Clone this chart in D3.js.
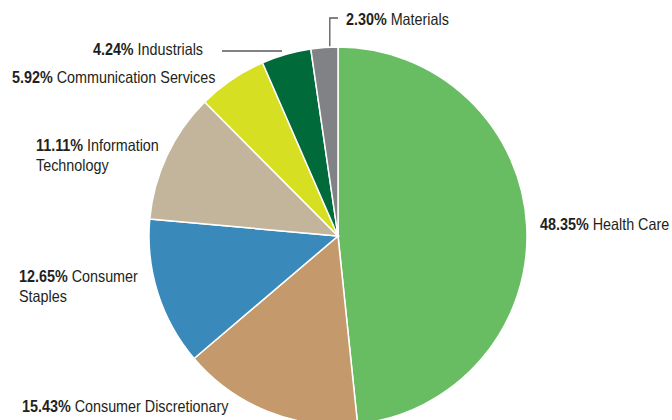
<!DOCTYPE html>
<html><head><meta charset="utf-8">
<script src="https://cdn.jsdelivr.net/npm/d3@7"></script>
<style>
body{margin:0;background:#fff;}
svg{display:block;}
text{font-family:"Liberation Sans",Arial,sans-serif;font-size:16.5px;fill:#231f20;}
</style></head>
<body>
<svg id="chart" width="672" height="420"></svg>
<script>
const categories = ["Health Care","Consumer Discretionary","Consumer Staples","Information Technology","Communication Services","Industrials","Materials"];
const values = [48.35,15.43,12.65,11.11,5.92,4.24,2.30];
const colors = ["#68bd63","#c4996b","#3a89bb","#c2b59b","#d7df23","#006a3b","#808285"];
// label layout: anchor position and name lines
const labelLayout = {
  "Health Care": {x:540, y:230, lines:["Health Care"]},
  "Consumer Discretionary": {x:22, y:412, lines:["Consumer Discretionary"]},
  "Consumer Staples": {x:19, y:282, lines:["Consumer","Staples"]},
  "Information Technology": {x:36, y:151, lines:["Information","Technology"]},
  "Communication Services": {x:12, y:83, lines:["Communication Services"]},
  "Industrials": {x:203, y:55, lines:["Industrials"], anchor:"end"},
  "Materials": {x:346, y:25, lines:["Materials"]}
};
const sx = 0.87;

const svg = d3.select("#chart");
const cx = 338, cy = 236, r = 189;
const data = categories.map((c,i)=>({cat:c, value:values[i], color:colors[i]}));
const pie = d3.pie().sort(null).value(d=>d.value);
const arc = d3.arc().innerRadius(0).outerRadius(r);
const g = svg.append("g").attr("transform",`translate(${cx},${cy})`);
const arcs = pie(data);
g.selectAll("path").data(arcs).join("path")
  .attr("d",arc).attr("fill",d=>d.data.color)
  .attr("stroke","#fff").attr("stroke-width",1.5);

// leader lines
const mat = arcs[6];
const matA = mat.endAngle - 0.3*(mat.endAngle-mat.startAngle);
const mx = cx + r*Math.sin(matA), my = cy - r*Math.cos(matA);
svg.append("path").attr("d",`M${mx},${my-1}V18H338`).attr("fill","none").attr("stroke","#58595b").attr("stroke-width",1.3);
svg.append("line").attr("x1",222).attr("x2",282).attr("y1",51).attr("y2",51).attr("stroke","#58595b").attr("stroke-width",1.3);

data.forEach(d=>{
  const L = labelLayout[d.cat];
  L.lines.forEach((line,k)=>{
    const t = svg.append("text")
      .attr("transform",`translate(${L.x},${L.y+20*k}) scale(${sx},1)`)
      .attr("text-anchor",L.anchor||"start");
    if(k===0) t.append("tspan").attr("font-weight","bold").text(d.value.toFixed(2)+"% ");
    t.append("tspan").text(line);
  });
});
</script>
</body></html>
